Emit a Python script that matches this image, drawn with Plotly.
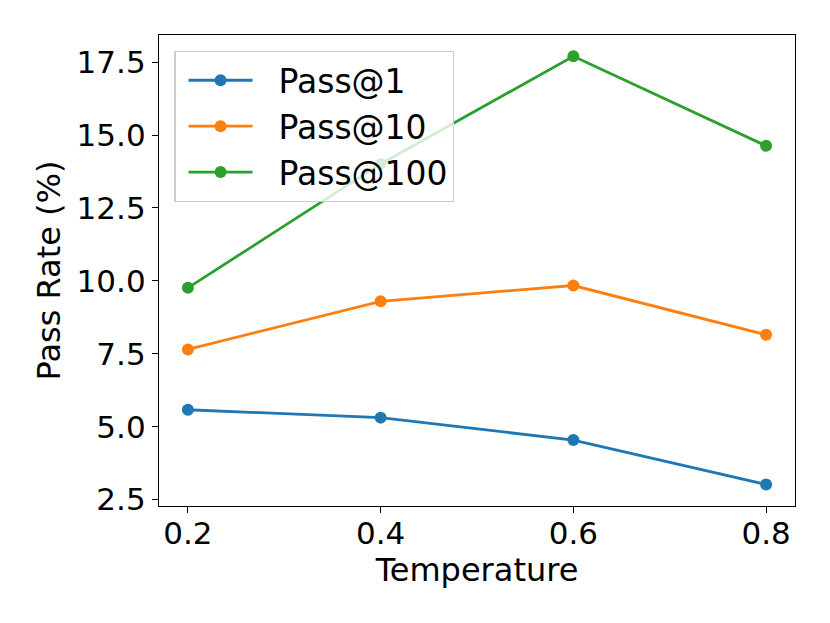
import plotly.graph_objects as go

temperature = [0.2, 0.4, 0.6, 0.8]
pass_at_1 = [5.58, 5.31, 4.54, 3.02]
pass_at_10 = [7.65, 9.30, 9.84, 8.15]
pass_at_100 = [9.76, 14.01, 17.70, 14.63]
y_ticks = [2.5, 5.0, 7.5, 10.0, 12.5, 15.0, 17.5]

tab10 = ['#1f77b4', '#ff7f0e', '#2ca02c']
series = [('Pass@1', pass_at_1), ('Pass@10', pass_at_10), ('Pass@100', pass_at_100)]

fig = go.Figure()
for (name, vals), color in zip(series, tab10):
    fig.add_trace(go.Scatter(
        # two nbsp so the legend text sits away from the line sample
        name='\u00a0\u00a0' + name,
        x=temperature,
        y=vals,
        mode='lines+markers',
        line=dict(color=color, width=2.8),
        marker=dict(color=color, size=12),
    ))

axis_common = dict(
    showline=True, linecolor='black', linewidth=1.3, mirror=True,
    ticks='outside', ticklen=6, tickwidth=1.3, tickcolor='black',
    showgrid=False, zeroline=False, automargin=False,
    tickfont=dict(size=31, color='black'),
)

fig.update_layout(
    width=822, height=615,
    template='plotly_white',
    paper_bgcolor='white', plot_bgcolor='white',
    font=dict(family='DejaVu Sans', size=31, color='black'),
    margin=dict(l=151, r=35, t=27, b=117),
    showlegend=True,
    legend=dict(
        x=0.024, y=0.966, xanchor='left', yanchor='top',
        bgcolor='rgba(255,255,255,0.8)',
        bordercolor='#cccccc', borderwidth=1.3,
        font=dict(size=33),
        indentation=8,
        itemwidth=64,
        tracegroupgap=0,
    ),
    xaxis=dict(
        range=[0.17, 0.83],
        tickvals=temperature,
        tickformat='.1f',
        ticklabelstandoff=-6,
        title=dict(text='Temperature', font=dict(size=32), standoff=3),
        **axis_common,
    ),
    yaxis=dict(
        range=[2.28, 18.43],
        tickvals=y_ticks,
        tickformat='.1f',
        title=dict(text='Pass Rate (%)', font=dict(size=32), standoff=6),
        **axis_common,
    ),
)

fig.write_html('out.html')
